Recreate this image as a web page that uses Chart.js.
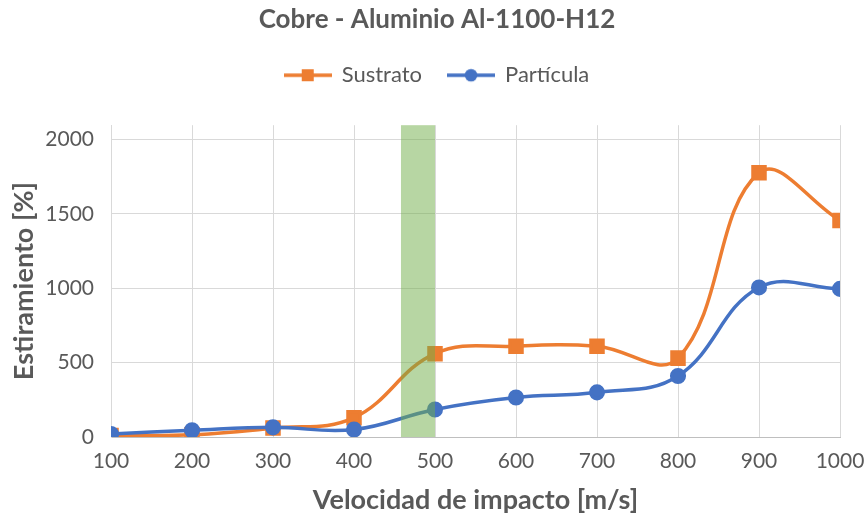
<!DOCTYPE html>
<html>
<head>
<meta charset="utf-8">
<script src="https://cdn.jsdelivr.net/npm/chart.js@4/dist/chart.umd.min.js"></script>
<style>
  html, body { margin: 0; padding: 0; background: #fff; }
  #wrap { width: 866px; height: 520px; }
</style>
</head>
<body>
<div id="wrap"><canvas id="chart" width="866" height="520"></canvas></div>
<script>
// Velocidad de impacto [m/s]
const velocidades = [100, 200, 300, 400, 500, 600, 700, 800, 900, 1000];
// Estiramiento [%]
const sustrato = [10, 15, 60, 130, 560, 610, 610, 530, 1775, 1455];
const particula = [20, 45, 65, 50, 185, 265, 300, 410, 1005, 995];
// franja sombreada (m/s)
const franja = [458, 500];
const yTicks = [0, 500, 1000, 1500, 2000];

const NARANJA = '#ED7D31';
const AZUL = '#4472C4';
const GRIS = '#595959';
const FONT = 'Lato, "Open Sans", sans-serif';

// icono de leyenda: linea con marcador en el centro
function iconoLeyenda(color, forma) {
    const c = document.createElement('canvas');
    c.width = 48; c.height = 16;
    const ctx = c.getContext('2d');
    ctx.strokeStyle = color;
    ctx.lineWidth = 3.5;
    ctx.beginPath();
    ctx.moveTo(0, 8);
    ctx.lineTo(48, 8);
    ctx.stroke();
    ctx.fillStyle = color;
    if (forma === 'rect') {
        ctx.fillRect(18, 2, 12, 12);
    } else {
        ctx.beginPath();
        ctx.arc(24, 8, 6.3, 0, Math.PI * 2);
        ctx.fill();
    }
    return c;
}

const franjaPlugin = {
    id: 'franja',
    afterDatasetsDraw(chart) {
        const { ctx, chartArea, scales } = chart;
        const x0 = scales.x.getPixelForValue(franja[0]);
        const x1 = scales.x.getPixelForValue(franja[1]);
        ctx.save();
        ctx.fillStyle = 'rgba(112, 173, 71, 0.5)';
        ctx.fillRect(x0, chartArea.top, x1 - x0, chartArea.bottom - chartArea.top);
        ctx.restore();
    }
};

const iconos = [iconoLeyenda(NARANJA, 'rect'), iconoLeyenda(AZUL, 'circle')];

new Chart(document.getElementById('chart'), {
    type: 'line',
    data: {
        datasets: [{
            label: 'Sustrato',
            data: velocidades.map((v, i) => ({ x: v, y: sustrato[i] })),
            borderColor: NARANJA,
            backgroundColor: NARANJA,
            borderWidth: 3.5,
            pointStyle: 'rect',
            pointRadius: 8.5,
            pointHoverRadius: 8.5,
            tension: 0.4,
            order: 1
        }, {
            label: 'Partícula',
            data: velocidades.map((v, i) => ({ x: v, y: particula[i] })),
            borderColor: AZUL,
            backgroundColor: AZUL,
            borderWidth: 3.5,
            pointStyle: 'circle',
            pointRadius: 6.3,
            pointHoverRadius: 6.3,
            tension: 0.4,
            order: 0
        }]
    },
    options: {
        responsive: false,
        animation: false,
        layout: { padding: { left: 8, right: 0, bottom: 4 } },
        plugins: {
            title: {
                display: true,
                text: 'Cobre - Aluminio Al-1100-H12',
                color: GRIS,
                font: { family: FONT, size: 26, weight: 'bold' },
                padding: { top: 4, bottom: 3 }
            },
            // separacion entre leyenda y area de trazado
            subtitle: {
                display: true,
                text: ' ',
                weight: 500,
                font: { size: 10 },
                padding: { top: 0, bottom: 17 }
            },
            legend: {
                position: 'top',
                labels: {
                    color: GRIS,
                    font: { family: FONT, size: 22 },
                    usePointStyle: true,
                    pointStyleWidth: 46,
                    padding: 26,
                    sort: (a, b) => a.datasetIndex - b.datasetIndex,
                    generateLabels(chart) {
                        const items = Chart.defaults.plugins.legend.labels.generateLabels(chart);
                        items.forEach(it => { it.pointStyle = iconos[it.datasetIndex]; });
                        return items;
                    }
                }
            },
            tooltip: { enabled: false }
        },
        scales: {
            x: {
                type: 'linear',
                min: 100,
                max: 1000,
                afterFit(scale) {
                    scale.height = 79;
                    scale.paddingLeft = 0;
                    scale.paddingRight = 26;
                },
                ticks: {
                    stepSize: 100,
                    color: GRIS,
                    font: { family: FONT, size: 21 },
                    padding: 12,
                    callback: v => String(v)
                },
                grid: { color: '#d9d9d9', drawTicks: false },
                border: { color: '#bfbfbf' },
                title: {
                    display: true,
                    text: 'Velocidad de impacto [m/s]',
                    color: GRIS,
                    font: { family: FONT, size: 27, weight: 'bold' },
                    padding: { top: 9, bottom: 0 }
                }
            },
            y: {
                min: 0,
                max: 2095,
                afterBuildTicks(scale) {
                    scale.ticks = yTicks.map(v => ({ value: v }));
                },
                afterFit(scale) {
                    scale.width = 103;
                },
                ticks: {
                    color: GRIS,
                    font: { family: FONT, size: 21 },
                    padding: 17,
                    callback: v => String(v)
                },
                grid: { color: '#d9d9d9', drawTicks: false },
                border: { color: '#d9d9d9' },
                title: {
                    display: true,
                    text: 'Estiramiento [%]',
                    color: GRIS,
                    font: { family: FONT, size: 27, weight: 'bold' },
                    padding: { top: 0, bottom: 8 }
                }
            }
        }
    },
    plugins: [franjaPlugin]
});
</script>
</body>
</html>
